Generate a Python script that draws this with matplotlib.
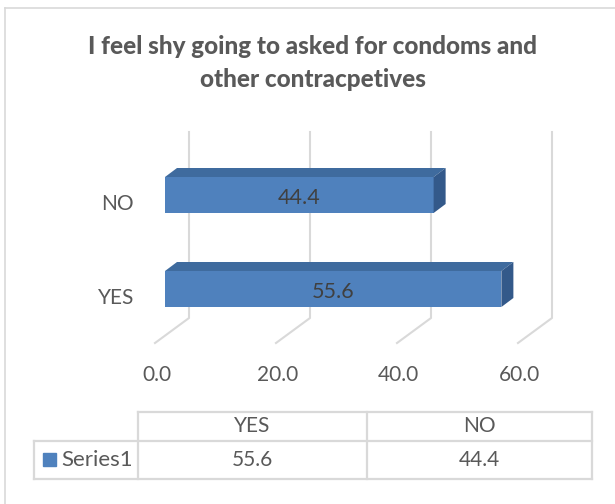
import matplotlib.pyplot as plt
from matplotlib.patches import Polygon

# chart data
categories = ['YES', 'NO']
values = [55.6, 44.4]
ticks = [0, 20, 40, 60]
series_name = 'Series1'
title = 'I feel shy going to asked for condoms and\nother contracpetives'

plt.rcParams['font.family'] = ['Lato', 'DejaVu Sans']

W, H = 615, 504
FRONT = '#4F81BD'
TOP = '#3F6B9E'
SIDE = '#33598A'
GRID = '#D9D9D9'
TXT = '#595959'
FS = 15

fig = plt.figure(figsize=(W / 100, H / 100), dpi=100)

# pixel-space layer for frame, title and data table
pix = fig.add_axes([0, 0, 1, 1])
pix.set_xlim(0, W)
pix.set_ylim(H, 0)
pix.axis('off')

# plot layer: x in value units, y in category units
px_per_unit = 6.05
x_zero = 165
px_per_cat = 94
y_zero = 289
ax = fig.add_axes([0, 0, 1, 1])
ax.set_xlim(-x_zero / px_per_unit, (W - x_zero) / px_per_unit)
ax.set_ylim((y_zero - H) / px_per_cat, y_zero / px_per_cat)
ax.axis('off')
ax.patch.set_alpha(0)

# outer frame
pix.plot([5, W], [8, 8], color=GRID, lw=1.2)
pix.plot([5, 5], [8, H], color=GRID, lw=1.2)

pix.text(W / 2 + 5, 63, title, ha='center', va='center', fontsize=17.5,
         fontweight='black', color=TXT, linespacing=1.55)

# oblique depth of the wall/floor and of the bars
floor_x = -10 / px_per_unit
floor_y = -54 / px_per_cat
depth_dx, depth_dy = 34 / px_per_unit, 25 / px_per_cat
wall_top = 157 / px_per_cat
bar_h = 36 / px_per_cat
bar_dx, bar_dy = 12 / px_per_unit, 9 / px_per_cat

for t in ticks:
    fx, fy = t + floor_x, floor_y
    bx, by = fx + depth_dx, fy + depth_dy
    ax.plot([fx, bx, bx], [fy, by, wall_top], color=GRID, lw=1.5, zorder=1)
    ax.text(fx + 0.3, -0.915, f'{t:.1f}', ha='center', va='center',
            fontsize=FS, color=TXT)

ypos = list(range(len(categories)))
ax.barh(ypos, values, height=bar_h, color=FRONT, zorder=3)
for y, v, c in zip(ypos, values, categories):
    top = y + bar_h / 2
    bot = y - bar_h / 2
    ax.add_patch(Polygon([(0, top), (v, top), (v + bar_dx, top + bar_dy),
                          (bar_dx, top + bar_dy)], closed=True,
                         facecolor=TOP, edgecolor='none', zorder=3))
    ax.add_patch(Polygon([(v, bot), (v, top), (v + bar_dx, top + bar_dy),
                          (v + bar_dx, bot + bar_dy)], closed=True,
                         facecolor=SIDE, edgecolor='none', zorder=3))
    ax.text(v / 2, y - 0.03, f'{v:.1f}', ha='center', va='center',
            fontsize=FS + 0.5, color='#404040', zorder=4)
    ax.text(-5.1, y - 0.1, c, ha='right', va='center', fontsize=FS, color=TXT)

# data table below the plot
col_x = [34, 138, 367, 592]
row_y = [412, 441, 479]
lw = 1.6
pix.plot([col_x[1], col_x[3]], [row_y[0], row_y[0]], color=GRID, lw=lw)
pix.plot([col_x[0], col_x[3]], [row_y[1], row_y[1]], color=GRID, lw=lw)
pix.plot([col_x[0], col_x[3]], [row_y[2], row_y[2]], color=GRID, lw=lw)
pix.plot([col_x[0], col_x[0]], [row_y[1], row_y[2]], color=GRID, lw=lw)
for cx in col_x[1:]:
    pix.plot([cx, cx], [row_y[0], row_y[2]], color=GRID, lw=lw)

order = [categories.index('YES'), categories.index('NO')]
for i, k in enumerate(order):
    cx = (col_x[i + 1] + col_x[i + 2]) / 2
    pix.text(cx, (row_y[0] + row_y[1]) / 2, categories[k], ha='center',
             va='center', fontsize=FS, color=TXT)
    pix.text(cx, (row_y[1] + row_y[2]) / 2, f'{values[k]:.1f}', ha='center',
             va='center', fontsize=FS, color=TXT)

pix.add_patch(plt.Rectangle((43, 453), 13, 13, color=FRONT))
pix.text(61, (row_y[1] + row_y[2]) / 2, series_name, ha='left', va='center',
         fontsize=FS + 1, color=TXT)

fig.savefig('out.png', dpi=100)
